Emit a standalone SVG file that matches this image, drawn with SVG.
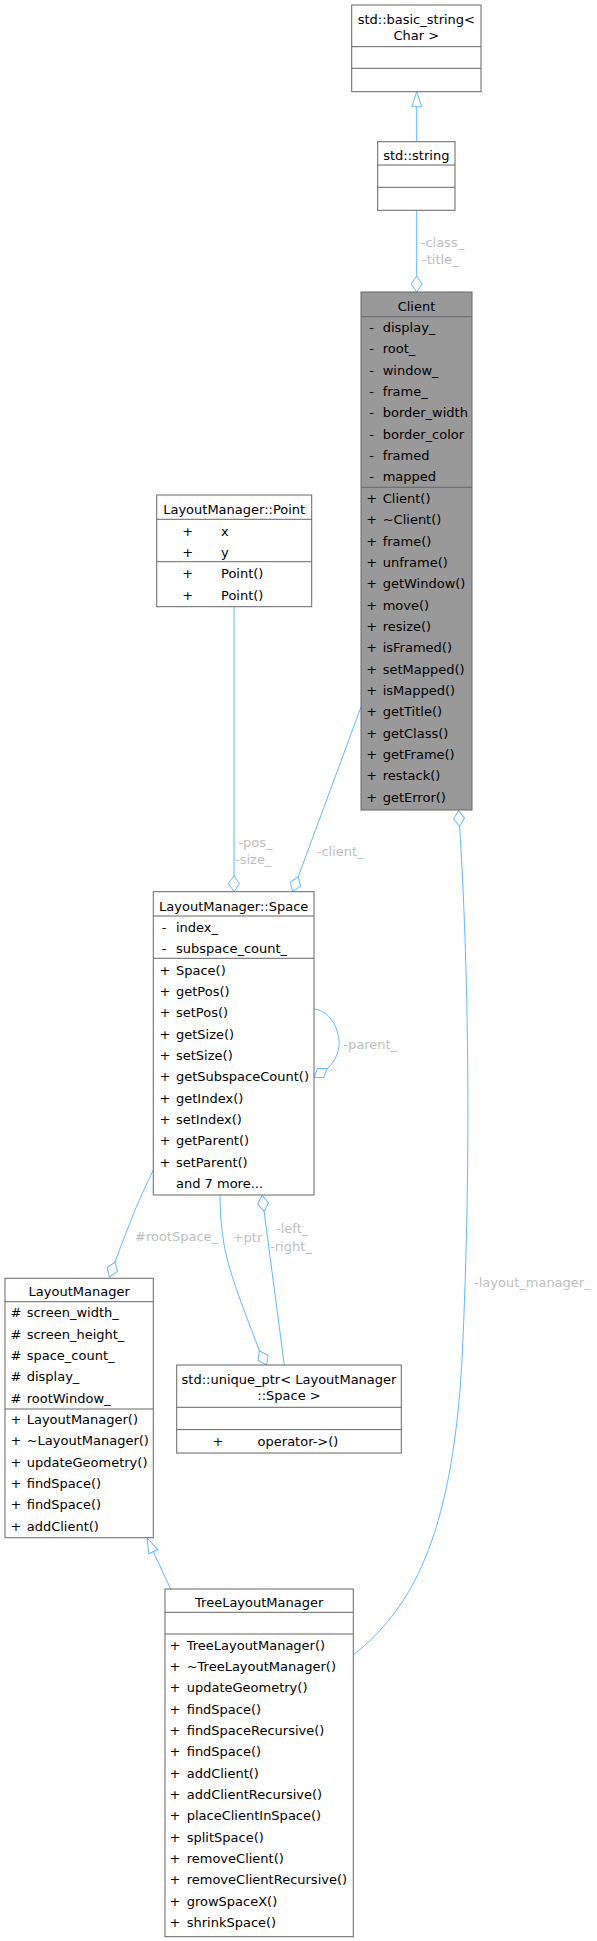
<svg xmlns="http://www.w3.org/2000/svg" width="597" height="1941" viewBox="0 0 597 1941">
<style>
text{font-family:"DejaVu Sans","Liberation Sans",sans-serif;font-size:13px;fill:#000}
.box{fill:#fff;stroke:#666;stroke-width:1}
.focus{fill:#999;stroke:#666;stroke-width:1}
.sep{stroke:#666;stroke-width:1}
.c{text-anchor:middle}
.edge{fill:none;stroke:#63b8ff;stroke-width:1}
.lbl{fill:#bebebe}
</style>
<defs>
<marker id="dia" markerUnits="userSpaceOnUse" orient="auto-start-reverse" overflow="visible" markerWidth="1" markerHeight="1" refX="0" refY="0">
<path d="M0,0 L-8,-5.5 L-16,0 L-8,5.5 Z" fill="#fff" stroke="#63b8ff" stroke-width="1"/>
</marker>
<marker id="tri" markerUnits="userSpaceOnUse" orient="auto-start-reverse" overflow="visible" markerWidth="1" markerHeight="1" refX="0" refY="0">
<path d="M0,0 L-15,-5 L-15,5 Z" fill="#fff" stroke="#63b8ff" stroke-width="1"/>
</marker>
</defs>

<g id="connectors">
<path class="edge" marker-start="url(#tri)" d="M416.7,91.7 L416.7,141.7"/>
<path class="edge" marker-start="url(#dia)" d="M416.7,292 L416.7,210.3"/>
<text class="lbl" x="420.7" y="247.2">-class_</text>
<text class="lbl" x="422" y="263.8">-title_</text>
<path class="edge" marker-start="url(#dia)" d="M234,891.7 L234,606.7"/>
<text class="lbl" x="238.3" y="847.2">-pos_</text>
<text class="lbl" x="235" y="863.8">-size_</text>
<path class="edge" marker-start="url(#dia)" d="M292.7,891.7 L361,707"/>
<text class="lbl" x="316.7" y="855.5">-client_</text>
<path class="edge" marker-start="url(#dia)" d="M314,1077.5 L328,1068 C336,1060 340,1050 339,1040 C337,1022 326,1010 314,1009"/>
<text class="lbl" x="343.3" y="1048.5">-parent_</text>
<path class="edge" marker-start="url(#dia)" d="M109.5,1277 L115,1262 C121,1245 128,1228 135,1210 C141,1196 147,1183 153.3,1170"/>
<text class="lbl" x="135" y="1241.2">#rootSpace_</text>
<path class="edge" marker-start="url(#dia)" d="M266.7,1365 L259.4,1350.8 C250,1325 232,1282 225.5,1252 C221.5,1233 220,1213 220,1195"/>
<text class="lbl" x="232.7" y="1241.8">+ptr</text>
<path class="edge" marker-start="url(#dia)" d="M262,1195.5 L284.3,1365"/>
<text class="lbl" x="276" y="1232.8">-left_</text>
<text class="lbl" x="270" y="1250.5">-right_</text>
<path class="edge" marker-start="url(#dia)" d="M458.5,810.5 L459.6,826.5 C468,960 472,1150 462,1360 C452,1540 410,1610 353.3,1655"/>
<text class="lbl" x="474" y="1286.5">-layout_manager_</text>
<path class="edge" marker-start="url(#tri)" d="M147,1538 L170.7,1589"/>
</g>

<g id="node-basic_string">
<rect class="box" x="351.7" y="5" width="129.3" height="86.7"/>
<line class="sep" x1="351.7" y1="46.7" x2="481" y2="46.7"/>
<line class="sep" x1="351.7" y1="68.3" x2="481" y2="68.3"/>
<text class="c" x="416.3" y="23.5">std::basic_string&lt;</text>
<text class="c" x="416.3" y="39.5">Char &gt;</text>
</g>

<g id="node-string">
<rect class="box" x="377.7" y="141.7" width="77.3" height="68.6"/>
<line class="sep" x1="377.7" y1="165" x2="455" y2="165"/>
<line class="sep" x1="377.7" y1="187.3" x2="455" y2="187.3"/>
<text class="c" x="416.3" y="159.5">std::string</text>
</g>

<g id="node-Client">
<rect class="focus" x="361" y="292" width="111" height="518"/>
<line class="sep" x1="361" y1="316.7" x2="472" y2="316.7"/>
<line class="sep" x1="361" y1="487.3" x2="472" y2="487.3"/>
<text class="c" x="416.5" y="310.5">Client</text>
<g class="c">
<text x="371.7" y="331.8">-</text><text x="371.7" y="353.2">-</text><text x="371.7" y="374.5">-</text><text x="371.7" y="395.8">-</text>
<text x="371.7" y="417.2">-</text><text x="371.7" y="438.5">-</text><text x="371.7" y="459.8">-</text><text x="371.7" y="481.2">-</text>
<text x="371.7" y="502.8">+</text><text x="371.7" y="524.2">+</text><text x="371.7" y="545.5">+</text><text x="371.7" y="566.8">+</text>
<text x="371.7" y="588.2">+</text><text x="371.7" y="609.5">+</text><text x="371.7" y="630.8">+</text><text x="371.7" y="652.2">+</text>
<text x="371.7" y="673.5">+</text><text x="371.7" y="694.8">+</text><text x="371.7" y="716.2">+</text><text x="371.7" y="737.5">+</text>
<text x="371.7" y="758.8">+</text><text x="371.7" y="780.2">+</text><text x="371.7" y="801.5">+</text>
</g>
<text x="382.7" y="331.8">display_</text>
<text x="382.7" y="353.2">root_</text>
<text x="382.7" y="374.5">window_</text>
<text x="382.7" y="395.8">frame_</text>
<text x="382.7" y="417.2">border_width</text>
<text x="382.7" y="438.5">border_color</text>
<text x="382.7" y="459.8">framed</text>
<text x="382.7" y="481.2">mapped</text>
<text x="382.7" y="502.8">Client()</text>
<text x="382.7" y="524.2">~Client()</text>
<text x="382.7" y="545.5">frame()</text>
<text x="382.7" y="566.8">unframe()</text>
<text x="382.7" y="588.2">getWindow()</text>
<text x="382.7" y="609.5">move()</text>
<text x="382.7" y="630.8">resize()</text>
<text x="382.7" y="652.2">isFramed()</text>
<text x="382.7" y="673.5">setMapped()</text>
<text x="382.7" y="694.8">isMapped()</text>
<text x="382.7" y="716.2">getTitle()</text>
<text x="382.7" y="737.5">getClass()</text>
<text x="382.7" y="758.8">getFrame()</text>
<text x="382.7" y="780.2">restack()</text>
<text x="382.7" y="801.5">getError()</text>
</g>

<g id="node-Point">
<rect class="box" x="156.7" y="495" width="155" height="111.7"/>
<line class="sep" x1="156.7" y1="519.3" x2="311.7" y2="519.3"/>
<line class="sep" x1="156.7" y1="561.7" x2="311.7" y2="561.7"/>
<text class="c" x="234.2" y="513.8">LayoutManager::Point</text>
<g class="c">
<text x="187.7" y="536.2">+</text><text x="187.7" y="557.2">+</text><text x="187.7" y="577.8">+</text><text x="187.7" y="599.5">+</text>
</g>
<text x="221" y="536.2">x</text>
<text x="221" y="557.2">y</text>
<text x="221" y="577.8">Point()</text>
<text x="221" y="599.5">Point()</text>
</g>

<g id="node-Space">
<rect class="box" x="153.3" y="891.7" width="160.7" height="303.3"/>
<line class="sep" x1="153.3" y1="916" x2="314" y2="916"/>
<line class="sep" x1="153.3" y1="958.3" x2="314" y2="958.3"/>
<text class="c" x="233.7" y="910.5">LayoutManager::Space</text>
<g class="c">
<text x="164" y="931.8">-</text><text x="164" y="953.2">-</text>
<text x="165" y="974.5">+</text><text x="165" y="995.8">+</text><text x="165" y="1017.2">+</text><text x="165" y="1038.5">+</text>
<text x="165" y="1059.8">+</text><text x="165" y="1081.2">+</text><text x="165" y="1102.5">+</text><text x="165" y="1123.8">+</text>
<text x="165" y="1145.2">+</text><text x="165" y="1166.5">+</text>
</g>
<text x="176" y="931.8">index_</text>
<text x="176" y="953.2">subspace_count_</text>
<text x="176" y="974.5">Space()</text>
<text x="176" y="995.8">getPos()</text>
<text x="176" y="1017.2">setPos()</text>
<text x="176" y="1038.5">getSize()</text>
<text x="176" y="1059.8">setSize()</text>
<text x="176" y="1081.2">getSubspaceCount()</text>
<text x="176" y="1102.5">getIndex()</text>
<text x="176" y="1123.8">setIndex()</text>
<text x="176" y="1145.2">getParent()</text>
<text x="176" y="1166.5">setParent()</text>
<text x="176" y="1187.8">and 7 more...</text>
</g>

<g id="node-LayoutManager">
<rect class="box" x="5" y="1278.3" width="148.3" height="259.4"/>
<line class="sep" x1="5" y1="1301.7" x2="153.3" y2="1301.7"/>
<line class="sep" x1="5" y1="1409" x2="153.3" y2="1409"/>
<text class="c" x="79.2" y="1296.2">LayoutManager</text>
<g class="c">
<text x="16" y="1317.2">#</text><text x="16" y="1338.5">#</text><text x="16" y="1359.8">#</text><text x="16" y="1381.2">#</text><text x="16" y="1402.5">#</text>
<text x="16" y="1423.8">+</text><text x="16" y="1445.2">+</text><text x="16" y="1466.5">+</text><text x="16" y="1487.8">+</text><text x="16" y="1509.2">+</text><text x="16" y="1530.5">+</text>
</g>
<text x="26.7" y="1317.2">screen_width_</text>
<text x="26.7" y="1338.5">screen_height_</text>
<text x="26.7" y="1359.8">space_count_</text>
<text x="26.7" y="1381.2">display_</text>
<text x="26.7" y="1402.5">rootWindow_</text>
<text x="26.7" y="1423.8">LayoutManager()</text>
<text x="26.7" y="1445.2">~LayoutManager()</text>
<text x="26.7" y="1466.5">updateGeometry()</text>
<text x="26.7" y="1487.8">findSpace()</text>
<text x="26.7" y="1509.2">findSpace()</text>
<text x="26.7" y="1530.5">addClient()</text>
</g>

<g id="node-unique_ptr">
<rect class="box" x="176.7" y="1365" width="224.6" height="88"/>
<line class="sep" x1="176.7" y1="1407.3" x2="401.3" y2="1407.3"/>
<line class="sep" x1="176.7" y1="1429.6" x2="401.3" y2="1429.6"/>
<text class="c" x="289" y="1383.5">std::unique_ptr&lt; LayoutManager</text>
<text class="c" x="289" y="1400.2">::Space &gt;</text>
<text class="c" x="218" y="1445.8">+</text>
<text x="257.6" y="1445.8">operator-&gt;()</text>
</g>

<g id="node-TreeLayoutManager">
<rect class="box" x="165" y="1589" width="188.3" height="347.7"/>
<line class="sep" x1="165" y1="1612.3" x2="353.3" y2="1612.3"/>
<line class="sep" x1="165" y1="1634" x2="353.3" y2="1634"/>
<text class="c" x="259.2" y="1606.8">TreeLayoutManager</text>
<g class="c">
<text x="175" y="1649.5">+</text><text x="175" y="1670.8">+</text><text x="175" y="1692.2">+</text><text x="175" y="1713.5">+</text>
<text x="175" y="1734.8">+</text><text x="175" y="1756.2">+</text><text x="175" y="1777.5">+</text><text x="175" y="1798.8">+</text>
<text x="175" y="1820.2">+</text><text x="175" y="1841.5">+</text><text x="175" y="1862.8">+</text><text x="175" y="1884.2">+</text>
<text x="175" y="1905.5">+</text><text x="175" y="1926.8">+</text>
</g>
<text x="186.7" y="1649.5">TreeLayoutManager()</text>
<text x="186.7" y="1670.8">~TreeLayoutManager()</text>
<text x="186.7" y="1692.2">updateGeometry()</text>
<text x="186.7" y="1713.5">findSpace()</text>
<text x="186.7" y="1734.8">findSpaceRecursive()</text>
<text x="186.7" y="1756.2">findSpace()</text>
<text x="186.7" y="1777.5">addClient()</text>
<text x="186.7" y="1798.8">addClientRecursive()</text>
<text x="186.7" y="1820.2">placeClientInSpace()</text>
<text x="186.7" y="1841.5">splitSpace()</text>
<text x="186.7" y="1862.8">removeClient()</text>
<text x="186.7" y="1884.2">removeClientRecursive()</text>
<text x="186.7" y="1905.5">growSpaceX()</text>
<text x="186.7" y="1926.8">shrinkSpace()</text>
</g>
</svg>
